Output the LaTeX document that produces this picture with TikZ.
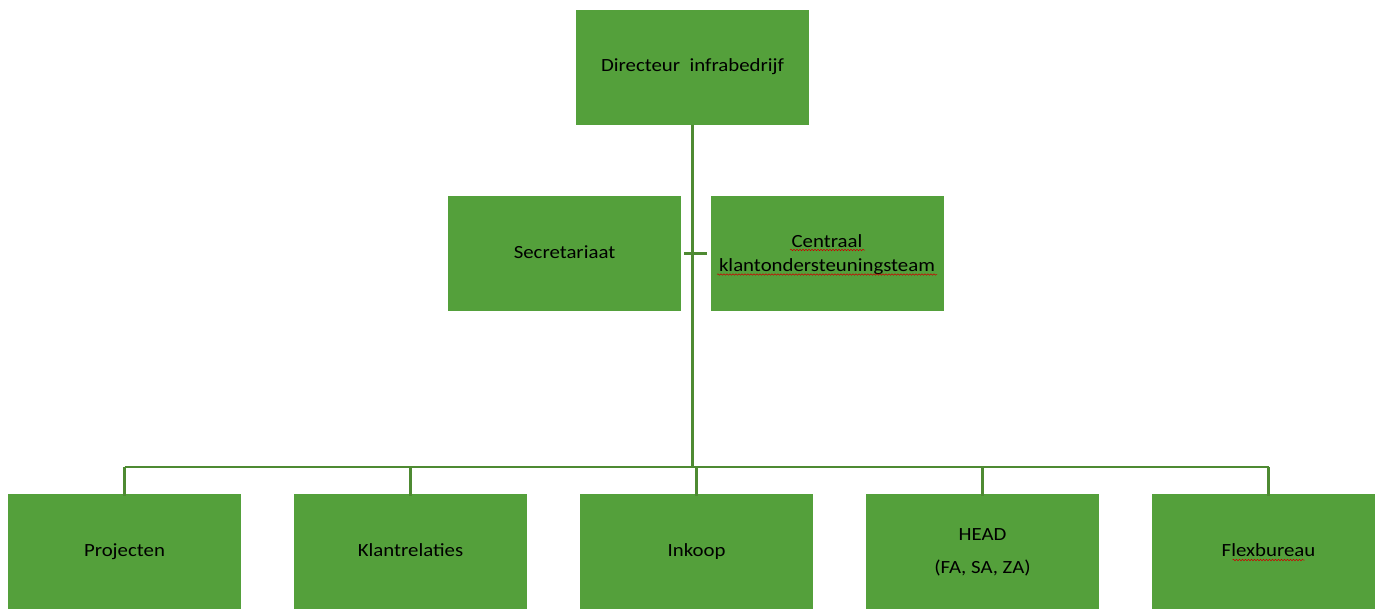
\documentclass[tikz,border=0pt]{standalone}
\usepackage{fontspec}
\setmainfont{Carlito}[FakeStretch=1.12]
\usetikzlibrary{decorations.pathmorphing}
\definecolor{boxgreen}{HTML}{54A03B}
\definecolor{linegreen}{HTML}{4E8A32}
\tikzset{
  orgbox/.style={fill=boxgreen, draw=none, minimum width=233pt, minimum height=115pt, inner sep=0pt, align=center, text=black, font=\fontsize{18.6}{24}\selectfont},
  conn/.style={draw=linegreen, line width=2.4pt},
  trunk/.style={draw=linegreen, line width=3pt},
  squig/.style={draw=red!80!black, line width=0.5pt, decorate, decoration={snake, amplitude=0.7pt, segment length=3pt}}
}
\begin{document}
\begin{tikzpicture}[x=1pt,y=-1pt]
\useasboundingbox (0,0) rectangle (1375,608);
\node[orgbox] (dir) at (692.5,67) {\strut Directeur\ \ infrabedrijf};
\node[orgbox] (sec) at (564.5,253.5) {\strut Secretariaat};
\node[orgbox] (cen) at (827,253.5) {\rule{0pt}{16pt}Centraal\\klantondersteuningsteam};
\node[orgbox, minimum height=116pt] (p1) at (124.5,552) {\strut Projecten};
\node[orgbox, minimum height=116pt] (p2) at (410.5,552) {\strut Klantrelaties};
\node[orgbox, minimum height=116pt] (p3) at (696.5,552) {\strut Inkoop};
\node[orgbox, minimum height=116pt] (p4) at (982.5,552) {\strut HEAD\\[9pt]\strut (FA, SA, ZA)};
\node[orgbox, minimum height=116pt] (p5) at (1268.5,552) {\strut Flexbureau};
\coordinate (bus) at (692,467);
% trunk
\draw[trunk] (dir.south -| bus) -- (bus);
% side stub
\draw[conn] ([xshift=3pt]sec.east) -- ([xshift=-3pt]cen.west);
% bus
\draw[conn] (p1.north |- bus) -- (p5.north |- bus);
\foreach \p in {p1,p2,p3,p4,p5}{
  \draw[conn] (\p.north |- bus) -- ([yshift=-2pt]\p.north);
}
% spell-check marks
\draw[squig] ([xshift=-37pt,yshift=3.5pt]cen.center) -- ([xshift=38pt,yshift=3.5pt]cen.center);
\draw[squig] ([xshift=-110pt,yshift=-21pt]cen.center) -- ([xshift=110pt,yshift=-21pt]cen.center);
\draw[squig] ([xshift=-36pt,yshift=-8pt]p5.center) -- ([xshift=36pt,yshift=-8pt]p5.center);
\end{tikzpicture}
\end{document}
